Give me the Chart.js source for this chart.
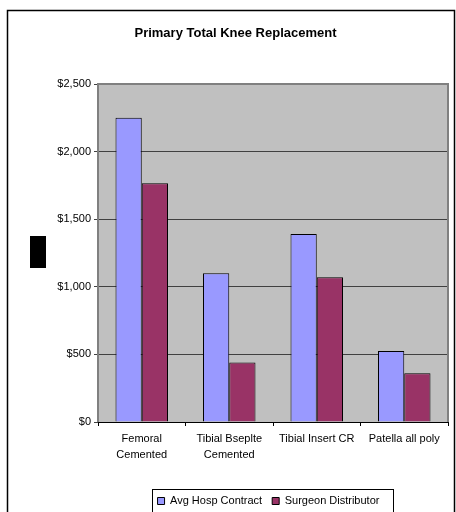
<!DOCTYPE html>
<html>
<head>
<meta charset="utf-8">
<script src="https://cdn.jsdelivr.net/npm/chart.js@4"></script>
<style>
  html, body { margin: 0; padding: 0; background: #fff; }
  #wrap { width: 456px; height: 512px; }
</style>
</head>
<body>
<div id="wrap"><canvas id="kneeChart"></canvas></div>
<script>
const categories = [['Femoral', 'Cemented'], ['Tibial Bseplte', 'Cemented'], 'Tibial Insert CR', 'Patella all poly'];
const avgHospContract = [2250, 1100, 1390, 525];
const surgeonDistributor = [1765, 440, 1070, 360];
const yTicks = [0, 500, 1000, 1500, 2000, 2500];

// grey plot area, frames and the black block left of the axis
const framePlugin = {
    id: 'frames',
    beforeDraw(chart) {
        const c = chart.ctx, a = chart.chartArea;
        c.save();
        c.fillStyle = '#C0C0C0';
        c.fillRect(a.left, a.top, a.right - a.left, a.bottom - a.top);
        c.restore();
    },
    beforeDatasetsDraw(chart) {
        const c = chart.ctx, a = chart.chartArea;
        c.save();
        c.strokeStyle = '#808080';
        c.lineWidth = 2;
        c.beginPath();
        c.moveTo(a.left, a.bottom);
        c.lineTo(a.left, a.top);
        c.lineTo(a.right, a.top);
        c.lineTo(a.right, a.bottom);
        c.stroke();
        c.restore();
    },
    afterLayout(chart) {
        // legend sits right of centre in the original
        const lg = chart.legend;
        lg.left += 33;
        lg.right += 33;
        (lg.legendHitBoxes || []).forEach(hb => { hb.left += 33; });
    },
    afterDraw(chart) {
        const c = chart.ctx;
        c.save();
        c.strokeStyle = '#000';
        c.lineWidth = 1.5;
        c.strokeRect(7.5, 10.5, 447, 600);
        c.fillStyle = '#000';
        c.fillRect(30, 236, 16, 32);
        const hb = chart.legend.legendHitBoxes;
        if (hb && hb.length) {
            const last = hb[hb.length - 1];
            const x0 = Math.round(hb[0].left - 6) + 0.5;
            const x1 = Math.round(last.left + last.width + 14) + 0.5;
            const cy = hb[0].top + hb[0].height / 2;
            c.lineWidth = 1;
            c.strokeRect(x0, Math.round(cy - 12) + 0.5, x1 - x0, 30);
        }
        c.restore();
    }
};

const ctx = document.getElementById('kneeChart').getContext('2d');
const kneeChart = new Chart(ctx, {
    type: 'bar',
    data: {
        labels: categories,
        datasets: [{
            label: 'Avg Hosp Contract',
            data: avgHospContract,
            backgroundColor: '#9999FF',
            borderColor: '#000000',
            borderWidth: 1,
            categoryPercentage: 0.6,
            barPercentage: 1.0
        }, {
            label: 'Surgeon Distributor',
            data: surgeonDistributor,
            backgroundColor: '#993366',
            borderColor: '#000000',
            borderWidth: 1,
            categoryPercentage: 0.6,
            barPercentage: 1.0
        }]
    },
    options: {
        responsive: true,
        maintainAspectRatio: false,
        animation: false,
        layout: {
            padding: { left: 23, right: 8, top: 0, bottom: -4.5 }
        },
        plugins: {
            title: {
                display: true,
                text: 'Primary Total Knee Replacement',
                color: '#000',
                font: { family: 'Liberation Sans', size: 13, weight: 'bold' },
                padding: { top: 26, bottom: 42.4 }
            },
            legend: {
                position: 'bottom',
                labels: {
                    color: '#000',
                    boxWidth: 7,
                    boxHeight: 7,
                    padding: 10,
                    font: { family: 'Liberation Sans', size: 11 }
                }
            },
            tooltip: { enabled: false }
        },
        scales: {
            x: {
                offset: true,
                grid: {
                    offset: true,
                    drawOnChartArea: false,
                    color: '#000',
                    tickLength: 4
                },
                border: { color: '#000', width: 1 },
                ticks: {
                    color: '#000',
                    maxRotation: 0,
                    autoSkip: false,
                    padding: 5,
                    font: { family: 'Liberation Sans', size: 11, lineHeight: 1.45 }
                },
                afterFit(scale) { scale.height = 63.5; }
            },
            y: {
                min: 0,
                max: 2500,
                afterBuildTicks(scale) {
                    scale.ticks = yTicks.map(v => ({ value: v }));
                },
                grid: {
                    color: '#404040',
                    tickColor: '#404040',
                    tickLength: 4
                },
                border: { display: false },
                ticks: {
                    color: '#000',
                    padding: 3,
                    font: { family: 'Liberation Sans', size: 11 },
                    callback: v => '$' + v.toLocaleString('en-US')
                },
                afterFit(scale) { scale.width = 75; }
            }
        }
    },
    plugins: [framePlugin]
});
</script>
</body>
</html>
